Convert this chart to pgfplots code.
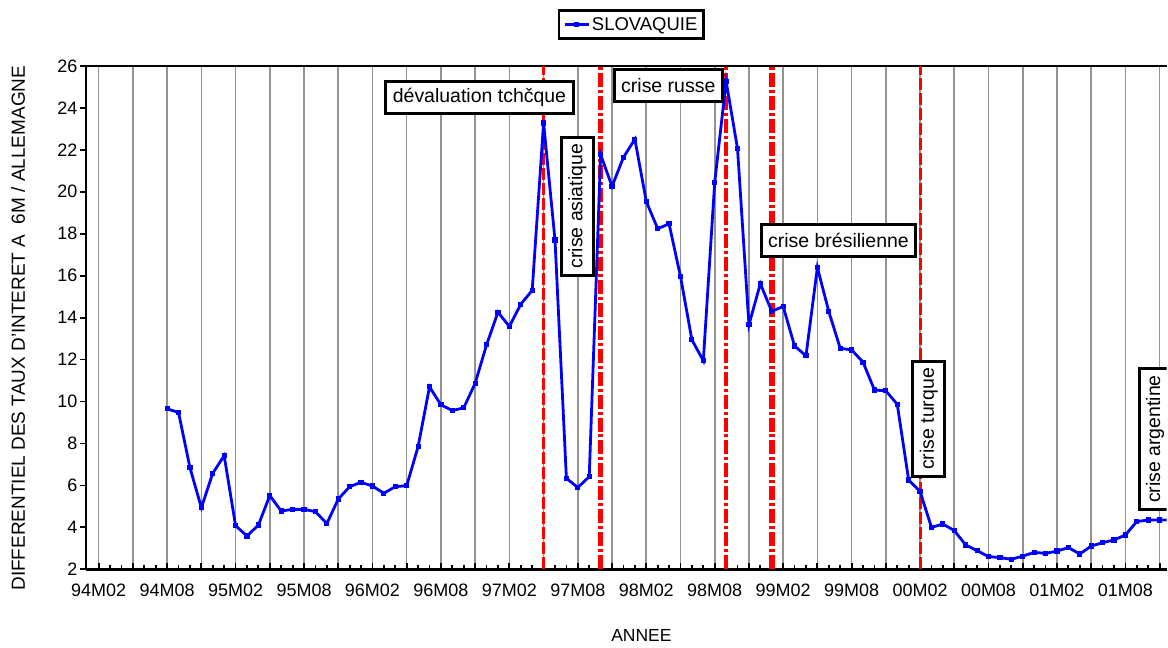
\documentclass[border=0pt]{standalone}
\usepackage{fontspec}
\setmainfont{Liberation Sans}
\usepackage{pgfplots}
\pgfplotsset{compat=1.18}
\pgfplotstableread{
m v
6 9.65
7 9.48
8 6.85
9 4.94
10 6.58
11 7.42
12 4.08
13 3.59
14 4.11
15 5.52
16 4.78
17 4.86
18 4.86
19 4.75
20 4.18
21 5.35
22 5.94
23 6.15
24 5.97
25 5.63
26 5.94
27 5.99
28 7.85
29 10.70
30 9.84
31 9.57
32 9.70
33 10.87
34 12.70
35 14.26
36 13.58
37 14.64
38 15.30
39 23.28
40 17.70
41 6.34
42 5.90
43 6.42
44 21.77
45 20.26
46 21.64
47 22.51
48 19.54
49 18.24
50 18.47
51 15.96
52 12.94
53 11.95
54 20.45
55 25.27
56 22.05
57 13.66
58 15.62
59 14.30
60 14.53
61 12.65
62 12.18
63 16.39
64 14.29
65 12.54
66 12.46
67 11.88
68 10.55
69 10.51
70 9.87
71 6.26
72 5.71
73 4.00
74 4.16
75 3.85
76 3.16
77 2.89
78 2.61
79 2.56
80 2.48
81 2.63
82 2.81
83 2.76
84 2.87
85 3.04
86 2.73
87 3.11
88 3.27
89 3.40
90 3.64
91 4.28
92 4.35
93 4.35
94 4.36
}\slovaquie
\begin{document}
\begin{tikzpicture}
\begin{axis}[
  at={(0,0)}, anchor=south west,
  scale only axis, width=1082pt, height=504pt,
  xmin=-1.12, xmax=93.62, ymin=2, ymax=26,
  axis x line*=box, axis y line*=left,
  axis line style={line width=2.6pt},
  xtick={0,3,...,93},
  xticklabels={94M02,,94M08,,95M02,,95M08,,96M02,,96M08,,97M02,,97M08,,98M02,,98M08,,99M02,,99M08,,00M02,,00M08,,01M02,,01M08,},
  minor x tick num=2,
  ytick={2,4,...,26},
  xtick pos=left,
  xtick align=inside, ytick align=outside,
  major tick length=6pt, minor tick length=4pt,
  every tick/.style={black, line width=1.8pt},
  xmajorgrids,
  major grid style={gray!85, line width=1.6pt},
  /pgf/number format/assume math mode=true,
  tick label style={font=\fontsize{18}{20}\selectfont},
  xticklabel style={yshift=-11pt},
  yticklabel style={xshift=1pt},
  xlabel={ANNEE},
  xlabel style={at={(axis description cs:0.514,-0.131)}, anchor=center, font=\fontsize{17.5}{20}\selectfont},
  ylabel={DIFFERENTIEL DES TAUX D'INTERET A~~6M / ALLEMAGNE},
  ylabel style={at={(axis description cs:-0.0628,0.479)}, anchor=center, font=\fontsize{19}{21}\selectfont},
  legend style={at={(0.5046,1)}, anchor=south, yshift=26pt, draw=black, line width=2.6pt,
    font=\fontsize{18.5}{21}\selectfont, inner xsep=4pt, inner ysep=5pt},
  legend image code/.code={\draw[#1] (0pt,0pt) -- (24pt,0pt); \draw[#1, mark repeat=2, mark phase=2] plot coordinates {(0pt,0pt) (12pt,0pt) (24pt,0pt)};},
]
% crisis lines
\addplot[forget plot, red, line width=3pt, dash pattern=on 12pt off 3pt] coordinates {(39,2) (39,26)};
\addplot[forget plot, red, line width=5.5pt, dash pattern=on 14pt off 3pt on 3pt off 3pt] coordinates {(44,2) (44,26)};
\addplot[forget plot, red, line width=4pt, dash pattern=on 14pt off 3pt on 3pt off 3pt] coordinates {(55,2) (55,26)};
\addplot[forget plot, red, line width=5.5pt, dash pattern=on 14pt off 3pt on 3pt off 3pt] coordinates {(59,2) (59,26)};
\addplot[forget plot, red, line width=3pt, dash pattern=on 12pt off 3pt] coordinates {(72,2) (72,26)};
% data
\addplot[blue, line width=2.8pt, mark=square*, mark size=1.2pt, mark options={solid}] table[x=m, y=v] {\slovaquie};
\addlegendentry{SLOVAQUIE}
% annotations
\tikzset{crisis/.style={draw=black, line width=3pt, fill=white, font=\fontsize{19.5}{22}\selectfont, inner xsep=7pt, minimum height=32pt}}
\node[crisis] at (axis cs:33.38,24.48) {dévaluation tchčque};
\node[crisis, rotate=90] at (axis cs:41.96,19.31) {crise asiatique};
\node[crisis] at (axis cs:49.93,25.07) {crise russe};
\node[crisis] at (axis cs:64.85,17.69) {crise brésilienne};
\node[crisis, rotate=90] at (axis cs:72.78,9.17) {crise turque};
\node[crisis, rotate=90] at (axis cs:92.6,8.21) {crise argentine};
\end{axis}
\useasboundingbox (-86pt,-78pt) rectangle (1082pt,570pt);
\end{tikzpicture}
\end{document}
